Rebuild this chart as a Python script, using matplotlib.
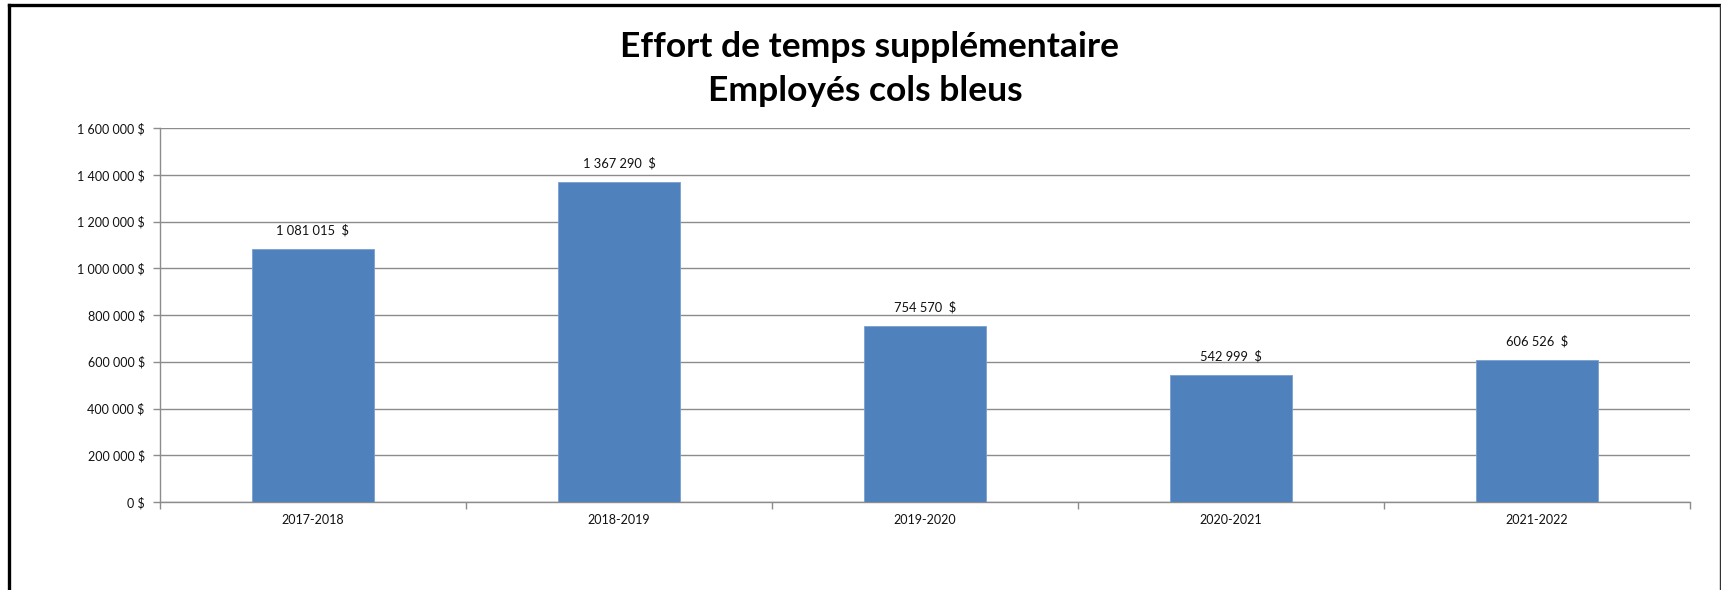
"""Effort de temps supplémentaire - employés cols bleus (bar chart)."""
import matplotlib

matplotlib.use("Agg")
import matplotlib.pyplot as plt
from matplotlib.lines import Line2D
from matplotlib.ticker import FuncFormatter, MultipleLocator

# data
periods = ["2017-2018", "2018-2019", "2019-2020", "2020-2021", "2021-2022"]
amounts = [1081015, 1367290, 754570, 542999, 606526]

BAR_COLOR = "#4F81BD"
GRID_COLOR = "#8C8C8C"
FONT = ["Lato", "DejaVu Sans"]


def fmt_money(v, sep=" ", tail=" $"):
    s = f"{int(round(v)):,}".replace(",", sep)
    return s + tail


plt.rcParams["font.family"] = FONT

fig = plt.figure(figsize=(17.21, 5.90), dpi=100)
ax = fig.add_axes([160 / 1721, 1 - 502 / 590, 1530 / 1721, 374 / 590])

x = list(range(len(periods)))
bars = ax.bar(x, amounts, width=0.4, color=BAR_COLOR, edgecolor="#7A9FD0",
              linewidth=0.6, zorder=3)

for b, v in zip(bars, amounts):
    ax.annotate(fmt_money(v, tail="  $"), (b.get_x() + b.get_width() / 2, v),
                xytext=(0, 9), textcoords="offset points", ha="center",
                va="bottom", fontsize=9.3, color="#111111")

ax.set_xlim(-0.5, len(periods) - 0.5)
ax.set_ylim(0, 1600000)
ax.yaxis.set_major_locator(MultipleLocator(200000))
ax.yaxis.set_major_formatter(FuncFormatter(lambda v, _: fmt_money(v)))
ax.grid(axis="y", color=GRID_COLOR, linewidth=1.0, zorder=0)

# category labels centred, tick marks on category boundaries
ax.set_xticks(x)
ax.set_xticklabels(periods, fontsize=9, color="#111111")
ax.tick_params(axis="x", which="major", length=0, pad=9)
ax.set_xticks([i - 0.5 for i in range(len(periods) + 1)], minor=True)
ax.tick_params(axis="x", which="minor", length=5, width=1, color=GRID_COLOR,
               direction="out")
ax.tick_params(axis="y", length=5, width=1, color=GRID_COLOR, pad=6,
               labelsize=9, labelcolor="#111111")

for side in ("top", "right"):
    ax.spines[side].set_visible(False)
for side in ("left", "bottom"):
    ax.spines[side].set_color(GRID_COLOR)
    ax.spines[side].set_linewidth(1.0)

fig.text(0.505, 1 - 47 / 590, "Effort de temps supplémentaire", ha="center",
         va="center", fontsize=25.5, fontweight="bold")
fig.text(0.503, 1 - 91 / 590, "Employés cols bleus", ha="center",
         va="center", fontsize=25.5, fontweight="bold")

# chart frame (cropped at the bottom)
W, H = 1721, 590
fig.add_artist(Line2D([8.5 / W, 8.5 / W], [0, 1 - 4.5 / H], color="black",
                      linewidth=2.4, transform=fig.transFigure))
fig.add_artist(Line2D([8.5 / W, 1719.5 / W], [1 - 4.5 / H, 1 - 4.5 / H],
                      color="black", linewidth=2.4, transform=fig.transFigure))
fig.add_artist(Line2D([1719.5 / W, 1719.5 / W], [0, 1 - 4.5 / H], color="#333333",
                      linewidth=1.0, transform=fig.transFigure))

fig.savefig("out.png", dpi=100, facecolor="white")
